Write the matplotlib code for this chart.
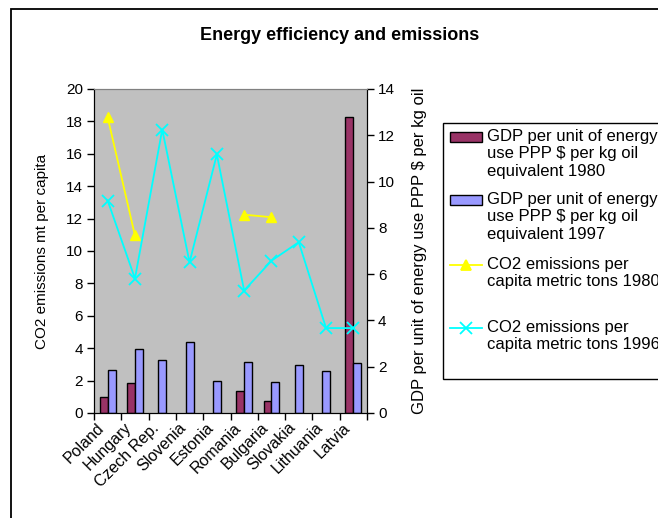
import matplotlib.pyplot as plt
import matplotlib.patches as mpatches
import matplotlib.transforms as mtransforms
from matplotlib.lines import Line2D
import numpy as np

plt.rcParams['font.family'] = ['Liberation Sans', 'DejaVu Sans']

countries = ['Poland', 'Hungary', 'Czech Rep.', 'Slovenia', 'Estonia',
             'Romania', 'Bulgaria', 'Slovakia', 'Lithuania', 'Latvia']

# GDP per unit of energy use (PPP $ per kg oil equivalent)
gdp_1980 = [0.97, 1.85, 0, 0, 0, 1.34, 0.76, 0, 0, 18.27]
gdp_1997 = [2.67, 3.97, 3.25, 4.38, 2.0, 3.15, 1.89, 2.96, 2.57, 3.09]

# CO2 emissions per capita (metric tons)
co2_1980 = [12.78, 7.67, None, None, None, 8.57, 8.46, None, None, None]
co2_1996 = [9.18, 5.81, 12.25, 6.51, 11.17, 5.29, 6.58, 7.38, 3.67, 3.67]

W, H = 658, 518
fig = plt.figure(figsize=(W / 100, H / 100), dpi=100)

def fx(px):
    return px / W

def fy(py):
    return 1 - py / H

# chart area border
fig.patches.append(mpatches.Rectangle((fx(11), fy(560)), 1.2, fy(9) - fy(560),
                                      transform=fig.transFigure, fill=False,
                                      edgecolor='black', linewidth=1.3))

ax = fig.add_axes([fx(94), fy(413), fx(367) - fx(94), fy(89) - fy(413)])
ax.set_facecolor('#C0C0C0')
ax2 = ax.twinx()

x = np.arange(len(countries))
bw = 0.29
gdp80 = np.array(gdp_1980, dtype=float)
has80 = gdp80 > 0
ax.bar(x[has80] - bw / 2, gdp80[has80], bw, color='#993366', edgecolor='black', linewidth=1)
ax.bar(x - bw / 2 + bw * np.where(has80, 1, 0.5), gdp_1997, bw,
       color='#9999FF', edgecolor='black', linewidth=1)

y80 = np.array([np.nan if v is None else v for v in co2_1980])
ax2.plot(x, y80, color='#FFFF00', linewidth=1.3, marker='^', markersize=7,
         markerfacecolor='#FFFF00', markeredgecolor='#FFFF00')
ax2.plot(x, co2_1996, color='#00FFFF', linewidth=1.3, marker='x', markersize=8,
         markeredgewidth=1.3)

ax.set_xlim(-0.5, len(countries) - 0.5)
ax.set_ylim(0, 20)
ax2.set_ylim(0, 14)
ax.set_yticks(np.arange(0, 21, 2))
ax2.set_yticks(np.arange(0, 15, 2))

ax.set_xticks(np.arange(len(countries) + 1) - 0.5)
ax.set_xticklabels([])
ax.set_xticks(x, minor=True)
ax.set_xticklabels(countries, minor=True, rotation=45, ha='right',
                   rotation_mode='anchor', fontsize=11.5)
ax.tick_params(axis='x', which='minor', length=0, pad=5)
ax.tick_params(axis='x', which='major', length=5, width=1)
ax.tick_params(axis='y', labelsize=11, length=5, width=1, pad=3)
ax2.tick_params(axis='y', labelsize=11, length=5, width=1, pad=3)

# nudge the category labels to the left
shift = mtransforms.ScaledTranslation(-11 / 100, 0, fig.dpi_scale_trans)
for lbl in ax.get_xticklabels(minor=True):
    lbl.set_transform(lbl.get_transform() + shift)

for a in (ax, ax2):
    a.spines['top'].set_color('#808080')
    a.spines['left'].set_color('black')
    a.spines['right'].set_color('black')
    a.spines['bottom'].set_color('black')

ax.set_ylabel('CO2 emissions mt per capita', fontsize=11, labelpad=12)
ax2.set_ylabel('GDP per unit of energy use PPP $ per kg oil', fontsize=12, labelpad=12)

fig.text(fx(340), fy(36), 'Energy efficiency and emissions', ha='center', va='center',
         fontsize=13, fontweight='bold')

# legend box
fig.patches.append(mpatches.Rectangle((fx(443), fy(379)), fx(700) - fx(443), fy(123) - fy(379),
                                      transform=fig.transFigure, facecolor='white',
                                      edgecolor='black', linewidth=1))
labels = ['GDP per unit of energy\nuse PPP $ per kg oil\nequivalent 1980',
          'GDP per unit of energy\nuse PPP $ per kg oil\nequivalent 1997',
          'CO2 emissions per\ncapita metric tons 1980',
          'CO2 emissions per\ncapita metric tons 1996']
tops = [132, 195, 260, 323]
for i, (lab, top) in enumerate(zip(labels, tops)):
    fig.text(fx(487), fy(top - 3), lab, ha='left', va='top', fontsize=12, linespacing=1.2)
    if i < 2:
        fc = '#993366' if i == 0 else '#9999FF'
        fig.patches.append(mpatches.Rectangle((fx(450), fy(top + 10)), fx(482) - fx(450),
                                              fy(top) - fy(top + 10), transform=fig.transFigure,
                                              facecolor=fc, edgecolor='black', linewidth=1))
    else:
        col = '#FFFF00' if i == 2 else '#00FFFF'
        mk = '^' if i == 2 else 'x'
        fig.lines.append(Line2D([fx(450), fx(482)], [fy(top + 5)] * 2, transform=fig.transFigure,
                                color=col, linewidth=1.3))
        fig.lines.append(Line2D([fx(466)], [fy(top + 5)], transform=fig.transFigure,
                                color=col, marker=mk, markersize=7 if i == 2 else 8,
                                markeredgewidth=1.3, linestyle='none'))

fig.savefig('out.png', dpi=100)
